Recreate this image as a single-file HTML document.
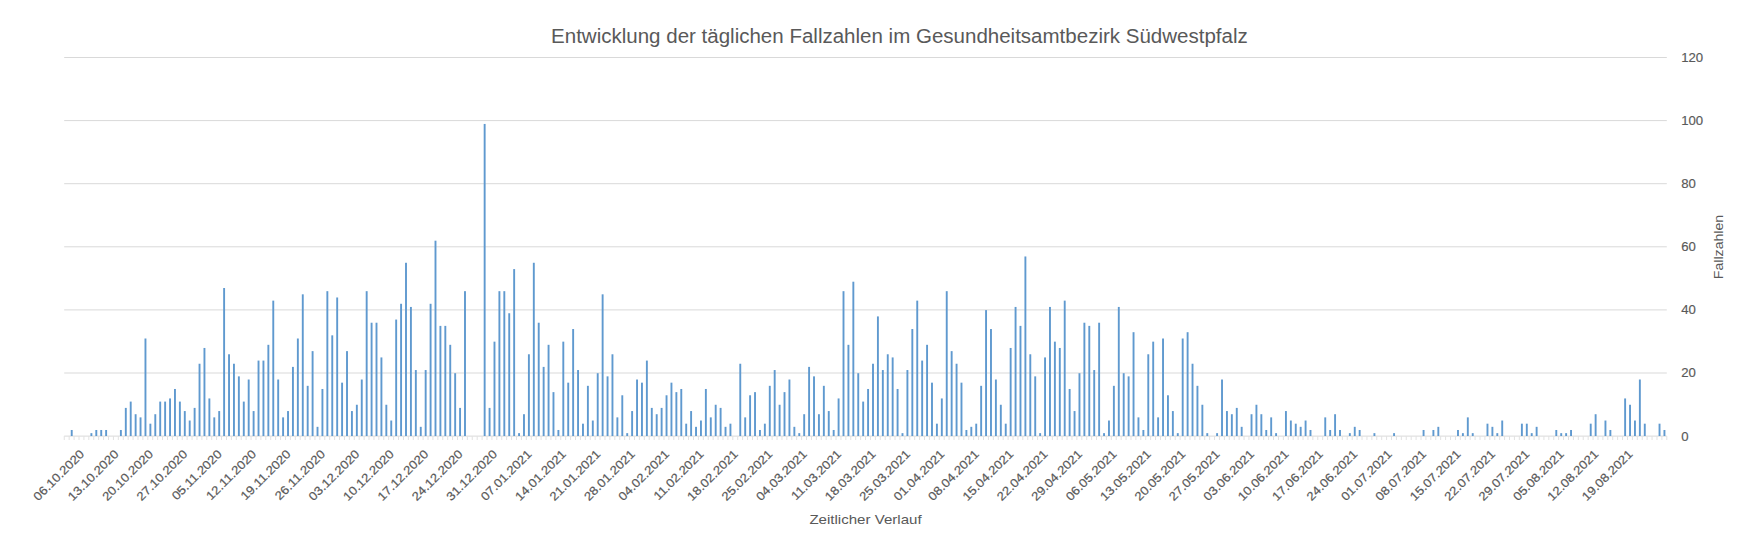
<!DOCTYPE html>
<html lang="de"><head><meta charset="utf-8"><title>Entwicklung der täglichen Fallzahlen</title>
<style>html,body{margin:0;padding:0;background:#fff}body{width:1746px;height:546px;overflow:hidden}svg{display:block}text{font-family:"Liberation Sans",sans-serif;fill:#595959}.g{stroke:#d9d9d9;stroke-width:1}.b{fill:#5f99cf}.xl{font-size:12px;stroke:#595959;stroke-width:.2px}.yl{font-size:12.2px;stroke:#595959;stroke-width:.15px}</style></head><body>
<svg width="1746" height="546" viewBox="0 0 1746 546">
<rect width="1746" height="546" fill="#fff"/>
<g class="g">
<line x1="64.2" y1="57.5" x2="1666.8" y2="57.5"/>
<line x1="64.2" y1="120.6" x2="1666.8" y2="120.6"/>
<line x1="64.2" y1="183.7" x2="1666.8" y2="183.7"/>
<line x1="64.2" y1="246.8" x2="1666.8" y2="246.8"/>
<line x1="64.2" y1="309.9" x2="1666.8" y2="309.9"/>
<line x1="64.2" y1="373.0" x2="1666.8" y2="373.0"/>
<line x1="64.2" y1="436.1" x2="1666.8" y2="436.1"/>
</g>
<path d="M64.25 436V440M69.17 436V440M74.08 436V440M79.00 436V440M83.91 436V440M88.83 436V440M93.74 436V440M98.66 436V440M103.58 436V440M108.49 436V440M113.41 436V440M118.32 436V440M123.24 436V440M128.16 436V440M133.07 436V440M137.99 436V440M142.90 436V440M147.82 436V440M152.73 436V440M157.65 436V440M162.57 436V440M167.48 436V440M172.40 436V440M177.31 436V440M182.23 436V440M187.14 436V440M192.06 436V440M196.98 436V440M201.89 436V440M206.81 436V440M211.72 436V440M216.64 436V440M221.56 436V440M226.47 436V440M231.39 436V440M236.30 436V440M241.22 436V440M246.13 436V440M251.05 436V440M255.97 436V440M260.88 436V440M265.80 436V440M270.71 436V440M275.63 436V440M280.55 436V440M285.46 436V440M290.38 436V440M295.29 436V440M300.21 436V440M305.12 436V440M310.04 436V440M314.96 436V440M319.87 436V440M324.79 436V440M329.70 436V440M334.62 436V440M339.53 436V440M344.45 436V440M349.37 436V440M354.28 436V440M359.20 436V440M364.11 436V440M369.03 436V440M373.95 436V440M378.86 436V440M383.78 436V440M388.69 436V440M393.61 436V440M398.52 436V440M403.44 436V440M408.36 436V440M413.27 436V440M418.19 436V440M423.10 436V440M428.02 436V440M432.93 436V440M437.85 436V440M442.77 436V440M447.68 436V440M452.60 436V440M457.51 436V440M462.43 436V440M467.35 436V440M472.26 436V440M477.18 436V440M482.09 436V440M487.01 436V440M491.92 436V440M496.84 436V440M501.76 436V440M506.67 436V440M511.59 436V440M516.50 436V440M521.42 436V440M526.33 436V440M531.25 436V440M536.17 436V440M541.08 436V440M546.00 436V440M550.91 436V440M555.83 436V440M560.75 436V440M565.66 436V440M570.58 436V440M575.49 436V440M580.41 436V440M585.32 436V440M590.24 436V440M595.16 436V440M600.07 436V440M604.99 436V440M609.90 436V440M614.82 436V440M619.74 436V440M624.65 436V440M629.57 436V440M634.48 436V440M639.40 436V440M644.31 436V440M649.23 436V440M654.15 436V440M659.06 436V440M663.98 436V440M668.89 436V440M673.81 436V440M678.72 436V440M683.64 436V440M688.56 436V440M693.47 436V440M698.39 436V440M703.30 436V440M708.22 436V440M713.14 436V440M718.05 436V440M722.97 436V440M727.88 436V440M732.80 436V440M737.71 436V440M742.63 436V440M747.55 436V440M752.46 436V440M757.38 436V440M762.29 436V440M767.21 436V440M772.12 436V440M777.04 436V440M781.96 436V440M786.87 436V440M791.79 436V440M796.70 436V440M801.62 436V440M806.54 436V440M811.45 436V440M816.37 436V440M821.28 436V440M826.20 436V440M831.11 436V440M836.03 436V440M840.95 436V440M845.86 436V440M850.78 436V440M855.69 436V440M860.61 436V440M865.52 436V440M870.44 436V440M875.36 436V440M880.27 436V440M885.19 436V440M890.10 436V440M895.02 436V440M899.94 436V440M904.85 436V440M909.77 436V440M914.68 436V440M919.60 436V440M924.51 436V440M929.43 436V440M934.35 436V440M939.26 436V440M944.18 436V440M949.09 436V440M954.01 436V440M958.93 436V440M963.84 436V440M968.76 436V440M973.67 436V440M978.59 436V440M983.50 436V440M988.42 436V440M993.34 436V440M998.25 436V440M1003.17 436V440M1008.08 436V440M1013.00 436V440M1017.91 436V440M1022.83 436V440M1027.75 436V440M1032.66 436V440M1037.58 436V440M1042.49 436V440M1047.41 436V440M1052.33 436V440M1057.24 436V440M1062.16 436V440M1067.07 436V440M1071.99 436V440M1076.90 436V440M1081.82 436V440M1086.74 436V440M1091.65 436V440M1096.57 436V440M1101.48 436V440M1106.40 436V440M1111.31 436V440M1116.23 436V440M1121.15 436V440M1126.06 436V440M1130.98 436V440M1135.89 436V440M1140.81 436V440M1145.73 436V440M1150.64 436V440M1155.56 436V440M1160.47 436V440M1165.39 436V440M1170.30 436V440M1175.22 436V440M1180.14 436V440M1185.05 436V440M1189.97 436V440M1194.88 436V440M1199.80 436V440M1204.72 436V440M1209.63 436V440M1214.55 436V440M1219.46 436V440M1224.38 436V440M1229.29 436V440M1234.21 436V440M1239.13 436V440M1244.04 436V440M1248.96 436V440M1253.87 436V440M1258.79 436V440M1263.70 436V440M1268.62 436V440M1273.54 436V440M1278.45 436V440M1283.37 436V440M1288.28 436V440M1293.20 436V440M1298.12 436V440M1303.03 436V440M1307.95 436V440M1312.86 436V440M1317.78 436V440M1322.69 436V440M1327.61 436V440M1332.53 436V440M1337.44 436V440M1342.36 436V440M1347.27 436V440M1352.19 436V440M1357.10 436V440M1362.02 436V440M1366.94 436V440M1371.85 436V440M1376.77 436V440M1381.68 436V440M1386.60 436V440M1391.52 436V440M1396.43 436V440M1401.35 436V440M1406.26 436V440M1411.18 436V440M1416.09 436V440M1421.01 436V440M1425.93 436V440M1430.84 436V440M1435.76 436V440M1440.67 436V440M1445.59 436V440M1450.50 436V440M1455.42 436V440M1460.34 436V440M1465.25 436V440M1470.17 436V440M1475.08 436V440M1480.00 436V440M1484.92 436V440M1489.83 436V440M1494.75 436V440M1499.66 436V440M1504.58 436V440M1509.49 436V440M1514.41 436V440M1519.33 436V440M1524.24 436V440M1529.16 436V440M1534.07 436V440M1538.99 436V440M1543.91 436V440M1548.82 436V440M1553.74 436V440M1558.65 436V440M1563.57 436V440M1568.48 436V440M1573.40 436V440M1578.32 436V440M1583.23 436V440M1588.15 436V440M1593.06 436V440M1597.98 436V440M1602.89 436V440M1607.81 436V440M1612.73 436V440M1617.64 436V440M1622.56 436V440M1627.47 436V440M1632.39 436V440M1637.31 436V440M1642.22 436V440M1647.14 436V440M1652.05 436V440M1656.97 436V440M1661.88 436V440M1666.80 436V440" fill="none" stroke="#e2e2e2" stroke-width="1"/>
<g class="b">
<rect x="70.77" y="429.99" width="1.90" height="6.01"/>
<rect x="90.44" y="433.14" width="1.90" height="2.86"/>
<rect x="95.35" y="429.99" width="1.90" height="6.01"/>
<rect x="100.27" y="429.99" width="1.90" height="6.01"/>
<rect x="105.18" y="429.99" width="1.90" height="6.01"/>
<rect x="119.93" y="429.99" width="1.90" height="6.01"/>
<rect x="124.85" y="407.90" width="1.90" height="28.10"/>
<rect x="129.76" y="401.59" width="1.90" height="34.41"/>
<rect x="134.68" y="414.21" width="1.90" height="21.79"/>
<rect x="139.59" y="417.37" width="1.90" height="18.63"/>
<rect x="144.51" y="338.50" width="1.90" height="97.51"/>
<rect x="149.43" y="423.68" width="1.90" height="12.32"/>
<rect x="154.34" y="414.21" width="1.90" height="21.79"/>
<rect x="159.26" y="401.59" width="1.90" height="34.41"/>
<rect x="164.17" y="401.59" width="1.90" height="34.41"/>
<rect x="169.09" y="398.44" width="1.90" height="37.56"/>
<rect x="174.01" y="388.98" width="1.90" height="47.03"/>
<rect x="178.92" y="401.59" width="1.90" height="34.41"/>
<rect x="183.84" y="411.06" width="1.90" height="24.94"/>
<rect x="188.75" y="420.52" width="1.90" height="15.48"/>
<rect x="193.67" y="407.90" width="1.90" height="28.10"/>
<rect x="198.58" y="363.74" width="1.90" height="72.27"/>
<rect x="203.50" y="347.96" width="1.90" height="88.04"/>
<rect x="208.42" y="398.44" width="1.90" height="37.56"/>
<rect x="213.33" y="417.37" width="1.90" height="18.63"/>
<rect x="218.25" y="411.06" width="1.90" height="24.94"/>
<rect x="223.16" y="288.01" width="1.90" height="147.99"/>
<rect x="228.08" y="354.27" width="1.90" height="81.73"/>
<rect x="233.00" y="363.74" width="1.90" height="72.27"/>
<rect x="237.91" y="376.36" width="1.90" height="59.65"/>
<rect x="242.83" y="401.59" width="1.90" height="34.41"/>
<rect x="247.74" y="379.51" width="1.90" height="56.49"/>
<rect x="252.66" y="411.06" width="1.90" height="24.94"/>
<rect x="257.57" y="360.58" width="1.90" height="75.42"/>
<rect x="262.49" y="360.58" width="1.90" height="75.42"/>
<rect x="267.41" y="344.81" width="1.90" height="91.20"/>
<rect x="272.32" y="300.63" width="1.90" height="135.37"/>
<rect x="277.24" y="379.51" width="1.90" height="56.49"/>
<rect x="282.15" y="417.37" width="1.90" height="18.63"/>
<rect x="287.07" y="411.06" width="1.90" height="24.94"/>
<rect x="291.98" y="366.89" width="1.90" height="69.11"/>
<rect x="296.90" y="338.50" width="1.90" height="97.51"/>
<rect x="301.82" y="294.32" width="1.90" height="141.68"/>
<rect x="306.73" y="385.82" width="1.90" height="50.18"/>
<rect x="311.65" y="351.12" width="1.90" height="84.89"/>
<rect x="316.56" y="426.83" width="1.90" height="9.16"/>
<rect x="321.48" y="388.98" width="1.90" height="47.03"/>
<rect x="326.40" y="291.17" width="1.90" height="144.83"/>
<rect x="331.31" y="335.34" width="1.90" height="100.66"/>
<rect x="336.23" y="297.48" width="1.90" height="138.52"/>
<rect x="341.14" y="382.66" width="1.90" height="53.34"/>
<rect x="346.06" y="351.12" width="1.90" height="84.89"/>
<rect x="350.97" y="411.06" width="1.90" height="24.94"/>
<rect x="355.89" y="404.75" width="1.90" height="31.25"/>
<rect x="360.81" y="379.51" width="1.90" height="56.49"/>
<rect x="365.72" y="291.17" width="1.90" height="144.83"/>
<rect x="370.64" y="322.72" width="1.90" height="113.28"/>
<rect x="375.55" y="322.72" width="1.90" height="113.28"/>
<rect x="380.47" y="357.43" width="1.90" height="78.58"/>
<rect x="385.38" y="404.75" width="1.90" height="31.25"/>
<rect x="390.30" y="420.52" width="1.90" height="15.48"/>
<rect x="395.22" y="319.56" width="1.90" height="116.44"/>
<rect x="400.13" y="303.79" width="1.90" height="132.21"/>
<rect x="405.05" y="262.77" width="1.90" height="173.22"/>
<rect x="409.96" y="306.94" width="1.90" height="129.06"/>
<rect x="414.88" y="370.04" width="1.90" height="65.96"/>
<rect x="419.80" y="426.83" width="1.90" height="9.16"/>
<rect x="424.71" y="370.04" width="1.90" height="65.96"/>
<rect x="429.63" y="303.79" width="1.90" height="132.21"/>
<rect x="434.54" y="240.69" width="1.90" height="195.31"/>
<rect x="439.46" y="325.88" width="1.90" height="110.13"/>
<rect x="444.37" y="325.88" width="1.90" height="110.13"/>
<rect x="449.29" y="344.81" width="1.90" height="91.20"/>
<rect x="454.21" y="373.20" width="1.90" height="62.80"/>
<rect x="459.12" y="407.90" width="1.90" height="28.10"/>
<rect x="464.04" y="291.17" width="1.90" height="144.83"/>
<rect x="483.70" y="123.95" width="1.90" height="312.05"/>
<rect x="488.62" y="407.90" width="1.90" height="28.10"/>
<rect x="493.53" y="341.65" width="1.90" height="94.35"/>
<rect x="498.45" y="291.17" width="1.90" height="144.83"/>
<rect x="503.36" y="291.17" width="1.90" height="144.83"/>
<rect x="508.28" y="313.25" width="1.90" height="122.75"/>
<rect x="513.20" y="269.09" width="1.90" height="166.91"/>
<rect x="518.11" y="433.14" width="1.90" height="2.86"/>
<rect x="523.03" y="414.21" width="1.90" height="21.79"/>
<rect x="527.94" y="354.27" width="1.90" height="81.73"/>
<rect x="532.86" y="262.77" width="1.90" height="173.22"/>
<rect x="537.77" y="322.72" width="1.90" height="113.28"/>
<rect x="542.69" y="366.89" width="1.90" height="69.11"/>
<rect x="547.61" y="344.81" width="1.90" height="91.20"/>
<rect x="552.52" y="392.13" width="1.90" height="43.87"/>
<rect x="557.44" y="429.99" width="1.90" height="6.01"/>
<rect x="562.35" y="341.65" width="1.90" height="94.35"/>
<rect x="567.27" y="382.66" width="1.90" height="53.34"/>
<rect x="572.19" y="329.03" width="1.90" height="106.97"/>
<rect x="577.10" y="370.04" width="1.90" height="65.96"/>
<rect x="582.02" y="423.68" width="1.90" height="12.32"/>
<rect x="586.93" y="385.82" width="1.90" height="50.18"/>
<rect x="591.85" y="420.52" width="1.90" height="15.48"/>
<rect x="596.76" y="373.20" width="1.90" height="62.80"/>
<rect x="601.68" y="294.32" width="1.90" height="141.68"/>
<rect x="606.60" y="376.36" width="1.90" height="59.65"/>
<rect x="611.51" y="354.27" width="1.90" height="81.73"/>
<rect x="616.43" y="417.37" width="1.90" height="18.63"/>
<rect x="621.34" y="395.28" width="1.90" height="40.72"/>
<rect x="626.26" y="433.14" width="1.90" height="2.86"/>
<rect x="631.17" y="411.06" width="1.90" height="24.94"/>
<rect x="636.09" y="379.51" width="1.90" height="56.49"/>
<rect x="641.01" y="382.66" width="1.90" height="53.34"/>
<rect x="645.92" y="360.58" width="1.90" height="75.42"/>
<rect x="650.84" y="407.90" width="1.90" height="28.10"/>
<rect x="655.75" y="414.21" width="1.90" height="21.79"/>
<rect x="660.67" y="407.90" width="1.90" height="28.10"/>
<rect x="665.59" y="395.28" width="1.90" height="40.72"/>
<rect x="670.50" y="382.66" width="1.90" height="53.34"/>
<rect x="675.42" y="392.13" width="1.90" height="43.87"/>
<rect x="680.33" y="388.98" width="1.90" height="47.03"/>
<rect x="685.25" y="423.68" width="1.90" height="12.32"/>
<rect x="690.16" y="411.06" width="1.90" height="24.94"/>
<rect x="695.08" y="426.83" width="1.90" height="9.16"/>
<rect x="700.00" y="420.52" width="1.90" height="15.48"/>
<rect x="704.91" y="388.98" width="1.90" height="47.03"/>
<rect x="709.83" y="417.37" width="1.90" height="18.63"/>
<rect x="714.74" y="404.75" width="1.90" height="31.25"/>
<rect x="719.66" y="407.90" width="1.90" height="28.10"/>
<rect x="724.57" y="426.83" width="1.90" height="9.16"/>
<rect x="729.49" y="423.68" width="1.90" height="12.32"/>
<rect x="739.32" y="363.74" width="1.90" height="72.27"/>
<rect x="744.24" y="417.37" width="1.90" height="18.63"/>
<rect x="749.15" y="395.28" width="1.90" height="40.72"/>
<rect x="754.07" y="392.13" width="1.90" height="43.87"/>
<rect x="758.99" y="429.99" width="1.90" height="6.01"/>
<rect x="763.90" y="423.68" width="1.90" height="12.32"/>
<rect x="768.82" y="385.82" width="1.90" height="50.18"/>
<rect x="773.73" y="370.04" width="1.90" height="65.96"/>
<rect x="778.65" y="404.75" width="1.90" height="31.25"/>
<rect x="783.56" y="392.13" width="1.90" height="43.87"/>
<rect x="788.48" y="379.51" width="1.90" height="56.49"/>
<rect x="793.40" y="426.83" width="1.90" height="9.16"/>
<rect x="798.31" y="433.14" width="1.90" height="2.86"/>
<rect x="803.23" y="414.21" width="1.90" height="21.79"/>
<rect x="808.14" y="366.89" width="1.90" height="69.11"/>
<rect x="813.06" y="376.36" width="1.90" height="59.65"/>
<rect x="817.97" y="414.21" width="1.90" height="21.79"/>
<rect x="822.89" y="385.82" width="1.90" height="50.18"/>
<rect x="827.81" y="411.06" width="1.90" height="24.94"/>
<rect x="832.72" y="429.99" width="1.90" height="6.01"/>
<rect x="837.64" y="398.44" width="1.90" height="37.56"/>
<rect x="842.55" y="291.17" width="1.90" height="144.83"/>
<rect x="847.47" y="344.81" width="1.90" height="91.20"/>
<rect x="852.39" y="281.71" width="1.90" height="154.29"/>
<rect x="857.30" y="373.20" width="1.90" height="62.80"/>
<rect x="862.22" y="401.59" width="1.90" height="34.41"/>
<rect x="867.13" y="388.98" width="1.90" height="47.03"/>
<rect x="872.05" y="363.74" width="1.90" height="72.27"/>
<rect x="876.96" y="316.41" width="1.90" height="119.59"/>
<rect x="881.88" y="370.04" width="1.90" height="65.96"/>
<rect x="886.80" y="354.27" width="1.90" height="81.73"/>
<rect x="891.71" y="357.43" width="1.90" height="78.58"/>
<rect x="896.63" y="388.98" width="1.90" height="47.03"/>
<rect x="901.54" y="433.14" width="1.90" height="2.86"/>
<rect x="906.46" y="370.04" width="1.90" height="65.96"/>
<rect x="911.38" y="329.03" width="1.90" height="106.97"/>
<rect x="916.29" y="300.63" width="1.90" height="135.37"/>
<rect x="921.21" y="360.58" width="1.90" height="75.42"/>
<rect x="926.12" y="344.81" width="1.90" height="91.20"/>
<rect x="931.04" y="382.66" width="1.90" height="53.34"/>
<rect x="935.95" y="423.68" width="1.90" height="12.32"/>
<rect x="940.87" y="398.44" width="1.90" height="37.56"/>
<rect x="945.79" y="291.17" width="1.90" height="144.83"/>
<rect x="950.70" y="351.12" width="1.90" height="84.89"/>
<rect x="955.62" y="363.74" width="1.90" height="72.27"/>
<rect x="960.53" y="382.66" width="1.90" height="53.34"/>
<rect x="965.45" y="429.99" width="1.90" height="6.01"/>
<rect x="970.36" y="426.83" width="1.90" height="9.16"/>
<rect x="975.28" y="423.68" width="1.90" height="12.32"/>
<rect x="980.20" y="385.82" width="1.90" height="50.18"/>
<rect x="985.11" y="310.10" width="1.90" height="125.90"/>
<rect x="990.03" y="329.03" width="1.90" height="106.97"/>
<rect x="994.94" y="379.51" width="1.90" height="56.49"/>
<rect x="999.86" y="404.75" width="1.90" height="31.25"/>
<rect x="1004.78" y="423.68" width="1.90" height="12.32"/>
<rect x="1009.69" y="347.96" width="1.90" height="88.04"/>
<rect x="1014.61" y="306.94" width="1.90" height="129.06"/>
<rect x="1019.52" y="325.88" width="1.90" height="110.13"/>
<rect x="1024.44" y="256.47" width="1.90" height="179.53"/>
<rect x="1029.35" y="354.27" width="1.90" height="81.73"/>
<rect x="1034.27" y="376.36" width="1.90" height="59.65"/>
<rect x="1039.19" y="433.14" width="1.90" height="2.86"/>
<rect x="1044.10" y="357.43" width="1.90" height="78.58"/>
<rect x="1049.02" y="306.94" width="1.90" height="129.06"/>
<rect x="1053.93" y="341.65" width="1.90" height="94.35"/>
<rect x="1058.85" y="347.96" width="1.90" height="88.04"/>
<rect x="1063.76" y="300.63" width="1.90" height="135.37"/>
<rect x="1068.68" y="388.98" width="1.90" height="47.03"/>
<rect x="1073.60" y="411.06" width="1.90" height="24.94"/>
<rect x="1078.51" y="373.20" width="1.90" height="62.80"/>
<rect x="1083.43" y="322.72" width="1.90" height="113.28"/>
<rect x="1088.34" y="325.88" width="1.90" height="110.13"/>
<rect x="1093.26" y="370.04" width="1.90" height="65.96"/>
<rect x="1098.18" y="322.72" width="1.90" height="113.28"/>
<rect x="1103.09" y="433.14" width="1.90" height="2.86"/>
<rect x="1108.01" y="420.52" width="1.90" height="15.48"/>
<rect x="1112.92" y="385.82" width="1.90" height="50.18"/>
<rect x="1117.84" y="306.94" width="1.90" height="129.06"/>
<rect x="1122.75" y="373.20" width="1.90" height="62.80"/>
<rect x="1127.67" y="376.36" width="1.90" height="59.65"/>
<rect x="1132.59" y="332.19" width="1.90" height="103.82"/>
<rect x="1137.50" y="417.37" width="1.90" height="18.63"/>
<rect x="1142.42" y="429.99" width="1.90" height="6.01"/>
<rect x="1147.33" y="354.27" width="1.90" height="81.73"/>
<rect x="1152.25" y="341.65" width="1.90" height="94.35"/>
<rect x="1157.16" y="417.37" width="1.90" height="18.63"/>
<rect x="1162.08" y="338.50" width="1.90" height="97.51"/>
<rect x="1167.00" y="395.28" width="1.90" height="40.72"/>
<rect x="1171.91" y="411.06" width="1.90" height="24.94"/>
<rect x="1176.83" y="433.14" width="1.90" height="2.86"/>
<rect x="1181.74" y="338.50" width="1.90" height="97.51"/>
<rect x="1186.66" y="332.19" width="1.90" height="103.82"/>
<rect x="1191.58" y="363.74" width="1.90" height="72.27"/>
<rect x="1196.49" y="385.82" width="1.90" height="50.18"/>
<rect x="1201.41" y="404.75" width="1.90" height="31.25"/>
<rect x="1206.32" y="433.14" width="1.90" height="2.86"/>
<rect x="1216.15" y="433.14" width="1.90" height="2.86"/>
<rect x="1221.07" y="379.51" width="1.90" height="56.49"/>
<rect x="1225.99" y="411.06" width="1.90" height="24.94"/>
<rect x="1230.90" y="414.21" width="1.90" height="21.79"/>
<rect x="1235.82" y="407.90" width="1.90" height="28.10"/>
<rect x="1240.73" y="426.83" width="1.90" height="9.16"/>
<rect x="1250.57" y="414.21" width="1.90" height="21.79"/>
<rect x="1255.48" y="404.75" width="1.90" height="31.25"/>
<rect x="1260.40" y="414.21" width="1.90" height="21.79"/>
<rect x="1265.31" y="429.99" width="1.90" height="6.01"/>
<rect x="1270.23" y="417.37" width="1.90" height="18.63"/>
<rect x="1275.14" y="433.14" width="1.90" height="2.86"/>
<rect x="1284.98" y="411.06" width="1.90" height="24.94"/>
<rect x="1289.89" y="420.52" width="1.90" height="15.48"/>
<rect x="1294.81" y="423.68" width="1.90" height="12.32"/>
<rect x="1299.72" y="426.83" width="1.90" height="9.16"/>
<rect x="1304.64" y="420.52" width="1.90" height="15.48"/>
<rect x="1309.55" y="429.99" width="1.90" height="6.01"/>
<rect x="1324.30" y="417.37" width="1.90" height="18.63"/>
<rect x="1329.22" y="429.99" width="1.90" height="6.01"/>
<rect x="1334.13" y="414.21" width="1.90" height="21.79"/>
<rect x="1339.05" y="429.99" width="1.90" height="6.01"/>
<rect x="1348.88" y="433.14" width="1.90" height="2.86"/>
<rect x="1353.80" y="426.83" width="1.90" height="9.16"/>
<rect x="1358.71" y="429.99" width="1.90" height="6.01"/>
<rect x="1373.46" y="433.14" width="1.90" height="2.86"/>
<rect x="1393.12" y="433.14" width="1.90" height="2.86"/>
<rect x="1422.62" y="429.99" width="1.90" height="6.01"/>
<rect x="1432.45" y="429.99" width="1.90" height="6.01"/>
<rect x="1437.37" y="426.83" width="1.90" height="9.16"/>
<rect x="1457.03" y="429.99" width="1.90" height="6.01"/>
<rect x="1461.94" y="433.14" width="1.90" height="2.86"/>
<rect x="1466.86" y="417.37" width="1.90" height="18.63"/>
<rect x="1471.78" y="433.14" width="1.90" height="2.86"/>
<rect x="1486.52" y="423.68" width="1.90" height="12.32"/>
<rect x="1491.44" y="426.83" width="1.90" height="9.16"/>
<rect x="1496.35" y="433.14" width="1.90" height="2.86"/>
<rect x="1501.27" y="420.52" width="1.90" height="15.48"/>
<rect x="1520.93" y="423.68" width="1.90" height="12.32"/>
<rect x="1525.85" y="423.68" width="1.90" height="12.32"/>
<rect x="1530.77" y="433.14" width="1.90" height="2.86"/>
<rect x="1535.68" y="426.83" width="1.90" height="9.16"/>
<rect x="1555.34" y="429.99" width="1.90" height="6.01"/>
<rect x="1560.26" y="433.14" width="1.90" height="2.86"/>
<rect x="1565.18" y="433.14" width="1.90" height="2.86"/>
<rect x="1570.09" y="429.99" width="1.90" height="6.01"/>
<rect x="1589.76" y="423.68" width="1.90" height="12.32"/>
<rect x="1594.67" y="414.21" width="1.90" height="21.79"/>
<rect x="1604.50" y="420.52" width="1.90" height="15.48"/>
<rect x="1609.42" y="429.99" width="1.90" height="6.01"/>
<rect x="1624.17" y="398.44" width="1.90" height="37.56"/>
<rect x="1629.08" y="404.75" width="1.90" height="31.25"/>
<rect x="1634.00" y="420.52" width="1.90" height="15.48"/>
<rect x="1638.91" y="379.51" width="1.90" height="56.49"/>
<rect x="1643.83" y="423.68" width="1.90" height="12.32"/>
<rect x="1658.58" y="423.68" width="1.90" height="12.32"/>
<rect x="1663.49" y="429.99" width="1.90" height="6.01"/>
</g>
<text class="yl" transform="translate(1681.2 440.5) scale(1.08 1)">0</text>
<text class="yl" transform="translate(1681.2 377.4) scale(1.08 1)">20</text>
<text class="yl" transform="translate(1681.2 314.3) scale(1.08 1)">40</text>
<text class="yl" transform="translate(1681.2 251.2) scale(1.08 1)">60</text>
<text class="yl" transform="translate(1681.2 188.1) scale(1.08 1)">80</text>
<text class="yl" transform="translate(1681.2 125.0) scale(1.08 1)">100</text>
<text class="yl" transform="translate(1681.2 61.9) scale(1.08 1)">120</text>
<text class="xl" text-anchor="end" transform="translate(85.01 454.80) rotate(-45) scale(1.100 1)">06.10.2020</text>
<text class="xl" text-anchor="end" transform="translate(119.42 454.80) rotate(-45) scale(1.100 1)">13.10.2020</text>
<text class="xl" text-anchor="end" transform="translate(153.83 454.80) rotate(-45) scale(1.100 1)">20.10.2020</text>
<text class="xl" text-anchor="end" transform="translate(188.24 454.80) rotate(-45) scale(1.100 1)">27.10.2020</text>
<text class="xl" text-anchor="end" transform="translate(222.65 454.80) rotate(-45) scale(1.100 1)">05.11.2020</text>
<text class="xl" text-anchor="end" transform="translate(257.06 454.80) rotate(-45) scale(1.100 1)">12.11.2020</text>
<text class="xl" text-anchor="end" transform="translate(291.47 454.80) rotate(-45) scale(1.100 1)">19.11.2020</text>
<text class="xl" text-anchor="end" transform="translate(325.88 454.80) rotate(-45) scale(1.100 1)">26.11.2020</text>
<text class="xl" text-anchor="end" transform="translate(360.29 454.80) rotate(-45) scale(1.100 1)">03.12.2020</text>
<text class="xl" text-anchor="end" transform="translate(394.70 454.80) rotate(-45) scale(1.100 1)">10.12.2020</text>
<text class="xl" text-anchor="end" transform="translate(429.11 454.80) rotate(-45) scale(1.100 1)">17.12.2020</text>
<text class="xl" text-anchor="end" transform="translate(463.52 454.80) rotate(-45) scale(1.100 1)">24.12.2020</text>
<text class="xl" text-anchor="end" transform="translate(497.93 454.80) rotate(-45) scale(1.100 1)">31.12.2020</text>
<text class="xl" text-anchor="end" transform="translate(532.35 454.80) rotate(-45) scale(1.100 1)">07.01.2021</text>
<text class="xl" text-anchor="end" transform="translate(566.76 454.80) rotate(-45) scale(1.100 1)">14.01.2021</text>
<text class="xl" text-anchor="end" transform="translate(601.17 454.80) rotate(-45) scale(1.100 1)">21.01.2021</text>
<text class="xl" text-anchor="end" transform="translate(635.58 454.80) rotate(-45) scale(1.100 1)">28.01.2021</text>
<text class="xl" text-anchor="end" transform="translate(669.99 454.80) rotate(-45) scale(1.100 1)">04.02.2021</text>
<text class="xl" text-anchor="end" transform="translate(704.40 454.80) rotate(-45) scale(1.100 1)">11.02.2021</text>
<text class="xl" text-anchor="end" transform="translate(738.81 454.80) rotate(-45) scale(1.100 1)">18.02.2021</text>
<text class="xl" text-anchor="end" transform="translate(773.22 454.80) rotate(-45) scale(1.100 1)">25.02.2021</text>
<text class="xl" text-anchor="end" transform="translate(807.63 454.80) rotate(-45) scale(1.100 1)">04.03.2021</text>
<text class="xl" text-anchor="end" transform="translate(842.04 454.80) rotate(-45) scale(1.100 1)">11.03.2021</text>
<text class="xl" text-anchor="end" transform="translate(876.45 454.80) rotate(-45) scale(1.100 1)">18.03.2021</text>
<text class="xl" text-anchor="end" transform="translate(910.86 454.80) rotate(-45) scale(1.100 1)">25.03.2021</text>
<text class="xl" text-anchor="end" transform="translate(945.27 454.80) rotate(-45) scale(1.100 1)">01.04.2021</text>
<text class="xl" text-anchor="end" transform="translate(979.68 454.80) rotate(-45) scale(1.100 1)">08.04.2021</text>
<text class="xl" text-anchor="end" transform="translate(1014.09 454.80) rotate(-45) scale(1.100 1)">15.04.2021</text>
<text class="xl" text-anchor="end" transform="translate(1048.50 454.80) rotate(-45) scale(1.100 1)">22.04.2021</text>
<text class="xl" text-anchor="end" transform="translate(1082.91 454.80) rotate(-45) scale(1.100 1)">29.04.2021</text>
<text class="xl" text-anchor="end" transform="translate(1117.33 454.80) rotate(-45) scale(1.100 1)">06.05.2021</text>
<text class="xl" text-anchor="end" transform="translate(1151.74 454.80) rotate(-45) scale(1.100 1)">13.05.2021</text>
<text class="xl" text-anchor="end" transform="translate(1186.15 454.80) rotate(-45) scale(1.100 1)">20.05.2021</text>
<text class="xl" text-anchor="end" transform="translate(1220.56 454.80) rotate(-45) scale(1.100 1)">27.05.2021</text>
<text class="xl" text-anchor="end" transform="translate(1254.97 454.80) rotate(-45) scale(1.100 1)">03.06.2021</text>
<text class="xl" text-anchor="end" transform="translate(1289.38 454.80) rotate(-45) scale(1.100 1)">10.06.2021</text>
<text class="xl" text-anchor="end" transform="translate(1323.79 454.80) rotate(-45) scale(1.100 1)">17.06.2021</text>
<text class="xl" text-anchor="end" transform="translate(1358.20 454.80) rotate(-45) scale(1.100 1)">24.06.2021</text>
<text class="xl" text-anchor="end" transform="translate(1392.61 454.80) rotate(-45) scale(1.100 1)">01.07.2021</text>
<text class="xl" text-anchor="end" transform="translate(1427.02 454.80) rotate(-45) scale(1.100 1)">08.07.2021</text>
<text class="xl" text-anchor="end" transform="translate(1461.43 454.80) rotate(-45) scale(1.100 1)">15.07.2021</text>
<text class="xl" text-anchor="end" transform="translate(1495.84 454.80) rotate(-45) scale(1.100 1)">22.07.2021</text>
<text class="xl" text-anchor="end" transform="translate(1530.25 454.80) rotate(-45) scale(1.100 1)">29.07.2021</text>
<text class="xl" text-anchor="end" transform="translate(1564.66 454.80) rotate(-45) scale(1.100 1)">05.08.2021</text>
<text class="xl" text-anchor="end" transform="translate(1599.07 454.80) rotate(-45) scale(1.100 1)">12.08.2021</text>
<text class="xl" text-anchor="end" transform="translate(1633.48 454.80) rotate(-45) scale(1.100 1)">19.08.2021</text>
<text text-anchor="middle" font-size="19.3" transform="translate(899.4 42.8) scale(1.064 1)">Entwicklung der täglichen Fallzahlen im Gesundheitsamtbezirk Südwestpfalz</text>
<text text-anchor="middle" font-size="13.6" transform="translate(865.5 524.2) scale(1.108 1)">Zeitlicher Verlauf</text>
<text text-anchor="middle" font-size="13.33" transform="translate(1723.1 247) rotate(-90) scale(1.06 1)">Fallzahlen</text>
</svg></body></html>
